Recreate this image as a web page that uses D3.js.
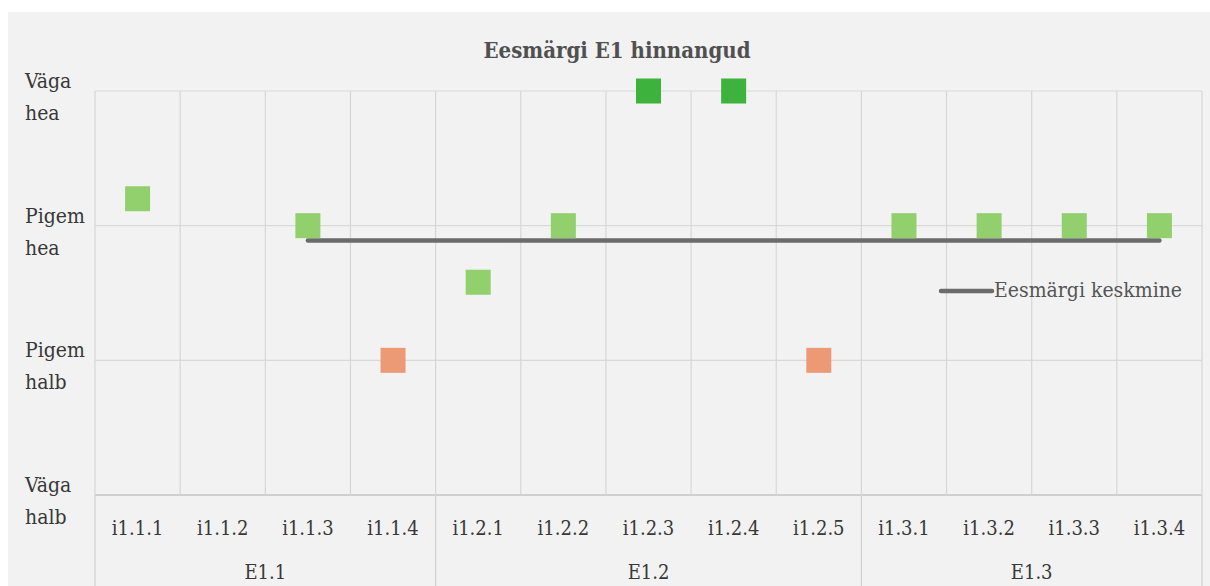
<!DOCTYPE html>
<html>
<head>
<meta charset="utf-8">
<script src="https://cdn.jsdelivr.net/npm/d3@7"></script>
<style>
  html, body { margin: 0; padding: 0; background: #ffffff; }
  svg { display: block; }
  text { font-family: "DejaVu Serif Condensed", "DejaVu Serif", serif; fill: #383838; }
</style>
</head>
<body>
<svg id="chart" width="1210" height="586"></svg>
<script>
// ---- data ----
const categories = ["i1.1.1","i1.1.2","i1.1.3","i1.1.4","i1.2.1","i1.2.2","i1.2.3","i1.2.4","i1.2.5","i1.3.1","i1.3.2","i1.3.3","i1.3.4"];
const groups = ["E1.1","E1.1","E1.1","E1.1","E1.2","E1.2","E1.2","E1.2","E1.2","E1.3","E1.3","E1.3","E1.3"];
const ratings = [3.2, null, 3, 2, 2.58, 3, 4, 4, 2, 3, 3, 3, 3];
const meanValues = [null, null, 2.89, 2.89, 2.89, 2.89, 2.89, 2.89, 2.89, 2.89, 2.89, 2.89, 2.89];
const yTickValues = [1, 2, 3, 4];
const yTickLabels = [["Väga","halb"],["Pigem","halb"],["Pigem","hea"],["Väga","hea"]];
const title = "Eesmärgi E1 hinnangud";
const legendLabel = "Eesmärgi keskmine";

(function () {
const svg = d3.select("#chart");
const W = 1210, H = 586;
const pl = 95, pr = 1202, pt = 91, pb = 495;

svg.append("rect").attr("x", 8).attr("y", 12).attr("width", W - 8).attr("height", H - 12).attr("fill", "#f2f2f2");

const x = d3.scaleBand().domain(categories).range([pl, pr]).padding(0);
const y = d3.scaleLinear().domain([1, 4]).range([pb, pt]);

const grid = svg.append("g");
grid.selectAll("line.h").data(yTickValues).join("line")
  .attr("x1", pl).attr("x2", pr)
  .attr("y1", d => y(d)).attr("y2", d => y(d))
  .attr("stroke", d => d === 1 ? "#cfcfcf" : "#d9d9d9").attr("stroke-width", d => d === 1 ? 2 : 1.2);
const bounds = categories.map(c => x(c)).concat([pr]);
grid.selectAll("line.v").data(bounds).join("line")
  .attr("x1", d => d).attr("x2", d => d)
  .attr("y1", pt).attr("y2", pb)
  .attr("stroke", "#d6d6d6").attr("stroke-width", 1.2);

const groupNames = Array.from(new Set(groups));
const groupInfo = groupNames.map(g => {
  const idx = groups.map((v, i) => v === g ? i : -1).filter(i => i >= 0);
  const x0 = x(categories[idx[0]]);
  const x1 = x(categories[idx[idx.length - 1]]) + x.bandwidth();
  return { g, x0, x1 };
});
const seps = [pl].concat(groupInfo.map(d => d.x1));
grid.selectAll("line.s").data(seps).join("line")
  .attr("x1", d => d).attr("x2", d => d)
  .attr("y1", pb).attr("y2", H)
  .attr("stroke", "#d0d0d0").attr("stroke-width", 1.2);

svg.append("g").selectAll("text").data(categories).join("text")
  .attr("x", d => x(d) + x.bandwidth() / 2)
  .attr("y", 535)
  .attr("text-anchor", "middle")
  .attr("font-size", 20)
  .text(d => d);

svg.append("g").selectAll("text").data(groupInfo).join("text")
  .attr("x", d => (d.x0 + d.x1) / 2)
  .attr("y", 579)
  .attr("text-anchor", "middle")
  .attr("font-size", 20)
  .text(d => d.g);

const yl = svg.append("g").selectAll("text").data(yTickValues).join("text")
  .attr("x", 25)
  .attr("y", d => y(d) - 3)
  .attr("font-size", 21);
yl.append("tspan").attr("x", 25).attr("dy", 0).text((d, i) => yTickLabels[i][0]);
yl.append("tspan").attr("x", 25).attr("dy", 32).text((d, i) => yTickLabels[i][1]);

const meanData = categories.map((c, i) => ({ c, v: meanValues[i] }));
svg.append("path")
  .datum(meanData)
  .attr("fill", "none")
  .attr("stroke", "#6b6b6b")
  .attr("stroke-width", 4.5)
  .attr("stroke-linecap", "round")
  .attr("d", d3.line()
    .defined(d => d.v != null)
    .x(d => x(d.c) + x.bandwidth() / 2)
    .y(d => y(d.v)));

function colorFor(v) {
  if (v >= 3.75) return "#3db33d";
  if (v >= 2.5) return "#92d06e";
  return "#ec9a75";
}
const pts = categories.map((c, i) => ({ c, v: ratings[i] })).filter(d => d.v != null);
const s = 25;
svg.append("g").selectAll("rect").data(pts).join("rect")
  .attr("x", d => x(d.c) + x.bandwidth() / 2 - s / 2)
  .attr("y", d => y(d.v) - s / 2)
  .attr("width", s).attr("height", s)
  .attr("fill", d => colorFor(d.v));

svg.append("text")
  .attr("x", 617).attr("y", 58)
  .attr("text-anchor", "middle")
  .attr("font-size", 22)
  .attr("font-weight", "bold")
  .style("fill", "#505050")
  .text(title);

svg.append("line")
  .attr("x1", 941).attr("x2", 992).attr("y1", 291).attr("y2", 291)
  .attr("stroke", "#6b6b6b").attr("stroke-width", 4.5).attr("stroke-linecap", "round");
svg.append("text")
  .attr("x", 994).attr("y", 297)
  .attr("font-size", 21)
  .style("fill", "#555555")
  .text(legendLabel);
})();
</script>
</body>
</html>
